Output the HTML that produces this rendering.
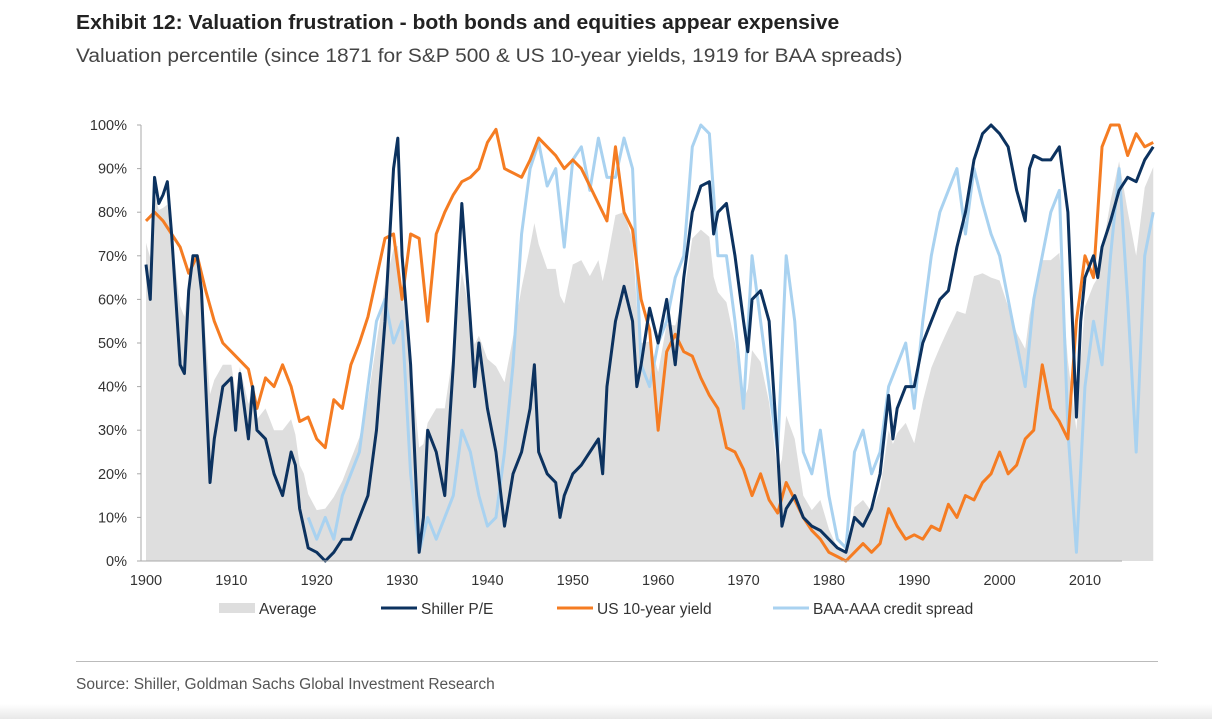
<!DOCTYPE html>
<html><head><meta charset="utf-8"><style>
body{margin:0;background:#fff;font-family:"Liberation Sans",sans-serif;}
#wrap{position:relative;width:1212px;height:719px;overflow:hidden;}
.t{position:absolute;white-space:nowrap;}
</style></head><body>
<div id="wrap">
<div class="t" style="left:76px;top:12px;font-size:20px;font-weight:bold;color:#222;transform:scaleX(1.055);transform-origin:left">Exhibit 12: Valuation frustration - both bonds and equities appear expensive</div>
<div class="t" style="left:76px;top:46px;font-size:19px;color:#444;transform:scaleX(1.1);transform-origin:left">Valuation percentile (since 1871 for S&amp;P 500 &amp; US 10-year yields, 1919 for BAA spreads)</div>
<svg id="chart" width="1212" height="719" style="position:absolute;left:0;top:0"></svg>
<div style="position:absolute;left:76px;top:661px;width:1082px;height:1px;background:#bbb"></div>
<div class="t" style="left:76px;top:676px;font-size:15.5px;color:#555">Source: Shiller, Goldman Sachs Global Investment Research</div>
<div style="position:absolute;left:0;top:704px;width:1212px;height:15px;background:linear-gradient(#fff,#e8e8e8)"></div>
</div>
<script>
const peYears=[1900,1900.5,1901,1901.5,1902,1902.5,1903,1904,1904.5,1905,1905.5,1906,1906.5,1907,1907.5,1908,1909,1910,1910.5,1911,1912,1912.5,1913,1914,1915,1916,1917,1917.5,1918,1919,1920,1921,1922,1923,1924,1925,1926,1927,1928,1929,1929.5,1930,1931,1932,1932.5,1933,1934,1935,1936,1937,1938,1938.5,1939,1940,1941,1942,1943,1944,1945,1945.5,1946,1947,1948,1948.5,1949,1950,1951,1952,1953,1953.5,1954,1955,1956,1957,1957.5,1958,1959,1960,1961,1962,1963,1964,1965,1966,1966.5,1967,1968,1969,1970,1970.5,1971,1972,1973,1974,1974.5,1975,1976,1977,1978,1979,1980,1981,1982,1983,1984,1985,1986,1987,1987.5,1988,1989,1990,1991,1992,1993,1994,1995,1996,1997,1998,1999,2000,2001,2002,2003,2003.5,2004,2005,2006,2007,2008,2009,2009.5,2010,2011,2011.5,2012,2013,2014,2015,2016,2017,2018];
const peValues=[68,60,88,82,84,87,75,45,43,62,70,70,62,40,18,28,40,42,30,43,28,40,30,28,20,15,25,22,12,3,2,0,2,5,5,10,15,30,55,90,97,70,45,2,10,30,25,15,45,82,55,40,50,35,25,8,20,25,35,45,25,20,18,10,15,20,22,25,28,20,40,55,63,55,40,45,58,50,60,45,65,80,86,87,75,80,82,70,55,48,60,62,55,25,8,12,15,10,8,7,5,3,2,10,8,12,20,38,28,35,40,40,50,55,60,62,72,80,92,98,100,98,95,85,78,90,93,92,92,95,80,33,55,65,70,65,72,78,85,88,87,92,95];
const yieldYears=[1900,1901,1902,1903,1904,1905,1906,1907,1908,1909,1910,1911,1912,1913,1914,1915,1916,1917,1918,1919,1920,1921,1922,1923,1924,1925,1926,1927,1928,1929,1930,1931,1932,1933,1934,1935,1936,1937,1938,1939,1940,1941,1942,1943,1944,1945,1946,1947,1948,1949,1950,1951,1952,1953,1954,1955,1956,1957,1958,1959,1960,1961,1962,1963,1964,1965,1966,1967,1968,1969,1970,1971,1972,1973,1974,1975,1976,1977,1978,1979,1980,1981,1982,1983,1984,1985,1986,1987,1988,1989,1990,1991,1992,1993,1994,1995,1996,1997,1998,1999,2000,2001,2002,2003,2004,2005,2006,2007,2008,2009,2010,2011,2012,2013,2014,2015,2016,2017,2018];
const yieldValues=[78,80,78,75,72,66,70,62,55,50,48,46,44,35,42,40,45,40,32,33,28,26,37,35,45,50,56,65,74,75,60,75,74,55,75,80,84,87,88,90,96,99,90,89,88,92,97,95,93,90,92,90,86,82,78,95,80,76,60,53,30,48,52,48,47,42,38,35,26,25,21,15,20,14,11,18,14,10,7,5,2,1,0,2,4,2,4,12,8,5,6,5,8,7,13,10,15,14,18,20,25,20,22,28,30,45,35,32,28,55,70,65,95,100,100,93,98,95,96];
const spreadYears=[1919,1920,1921,1922,1923,1924,1925,1926,1927,1928,1929,1930,1931,1932,1933,1934,1935,1936,1937,1938,1939,1940,1941,1942,1943,1944,1945,1946,1947,1948,1949,1950,1951,1952,1953,1954,1955,1956,1957,1958,1959,1960,1961,1962,1963,1964,1965,1966,1967,1968,1969,1970,1971,1972,1973,1974,1975,1976,1977,1978,1979,1980,1981,1982,1983,1984,1985,1986,1987,1988,1989,1990,1991,1992,1993,1994,1995,1996,1997,1998,1999,2000,2001,2002,2003,2004,2005,2006,2007,2008,2009,2010,2011,2012,2013,2014,2015,2016,2017,2018];
const spreadValues=[10,5,10,5,15,20,25,40,55,60,50,55,20,2,10,5,10,15,30,25,15,8,10,25,45,75,90,96,86,90,72,92,95,85,97,88,88,97,90,45,40,50,55,65,70,95,100,98,70,70,55,35,70,55,40,25,70,55,25,20,30,15,5,3,25,30,20,25,40,45,50,35,55,70,80,85,90,75,90,82,75,70,60,50,40,60,70,80,85,30,2,40,55,45,70,90,60,25,70,80];
const yTicks=[0,10,20,30,40,50,60,70,80,90,100];
const xTicks=[1900,1910,1920,1930,1940,1950,1960,1970,1980,1990,2000,2010];

const NS='http://www.w3.org/2000/svg';
const svg=document.getElementById('chart');
const x=y=>146+(y-1900)*8.536;
const yy=v=>561-v*4.36;
function mk(t,a){const e=document.createElementNS(NS,t);for(const k in a)e.setAttribute(k,a[k]);svg.appendChild(e);return e;}
function interp(xs,vs,t){if(t<xs[0]||t>xs[xs.length-1])return null;for(let i=1;i<xs.length;i++){if(t<=xs[i]){const f=(t-xs[i-1])/(xs[i]-xs[i-1]);return vs[i-1]+f*(vs[i]-vs[i-1]);}}return vs[vs.length-1];}
let pts=[[x(1900),yy(0)]];
for(let t=1900;t<=2018;t+=0.5){const a=[interp(peYears,peValues,t),interp(yieldYears,yieldValues,t),interp(spreadYears,spreadValues,t)].filter(v=>v!==null);const m=a.reduce((s,v)=>s+v,0)/a.length;pts.push([x(t),yy(m)]);}
pts.push([x(2018),yy(0)]);
const area=mk('polygon',{points:pts.map(p=>p.join(',')).join(' '),fill:'#dedede'});


function line(xs,vs,c,name){const l=mk('polyline',{points:xs.map((t,i)=>x(t)+','+yy(vs[i])).join(' '),fill:'none',stroke:c,'stroke-width':3,'stroke-linejoin':'round'});

}
line(spreadYears,spreadValues,'#a9d2f0','credit-spread-line');
line(yieldYears,yieldValues,'#f57c22','us-10y-yield-line');
line(peYears,peValues,'#0c325f','shiller-pe-line');
const ax=mk('line',{x1:141,y1:125,x2:141,y2:561,stroke:'#aaa'});


const bx=mk('line',{x1:141,y1:561,x2:1122,y2:561,stroke:'#aaa'});


yTicks.forEach(v=>{mk('line',{x1:137,x2:141,y1:yy(v),y2:yy(v),stroke:'#aaa'});
const t=mk('text',{x:127,y:yy(v)+5,'text-anchor':'end','font-size':14.5,fill:'#333','font-family':'Liberation Sans'});t.textContent=v+'%';

});
xTicks.forEach(v=>{const t=mk('text',{x:x(v),y:585,'text-anchor':'middle','font-size':14.5,fill:'#333','font-family':'Liberation Sans'});t.textContent=v;

});
const leg=[['Average','#dedede',219,10],['Shiller P/E','#0c325f',381,3],['US 10-year yield','#f57c22',557,3],['BAA-AAA credit spread','#a9d2f0',773,3]];
leg.forEach(l=>{mk('rect',{x:l[2],y:608-l[3]/2,width:36,height:l[3],fill:l[1]});
const t=mk('text',{x:l[2]+40,y:614,'font-size':15.5,fill:'#333','font-family':'Liberation Sans'});t.textContent=l[0];

});
</script>
</body></html>
